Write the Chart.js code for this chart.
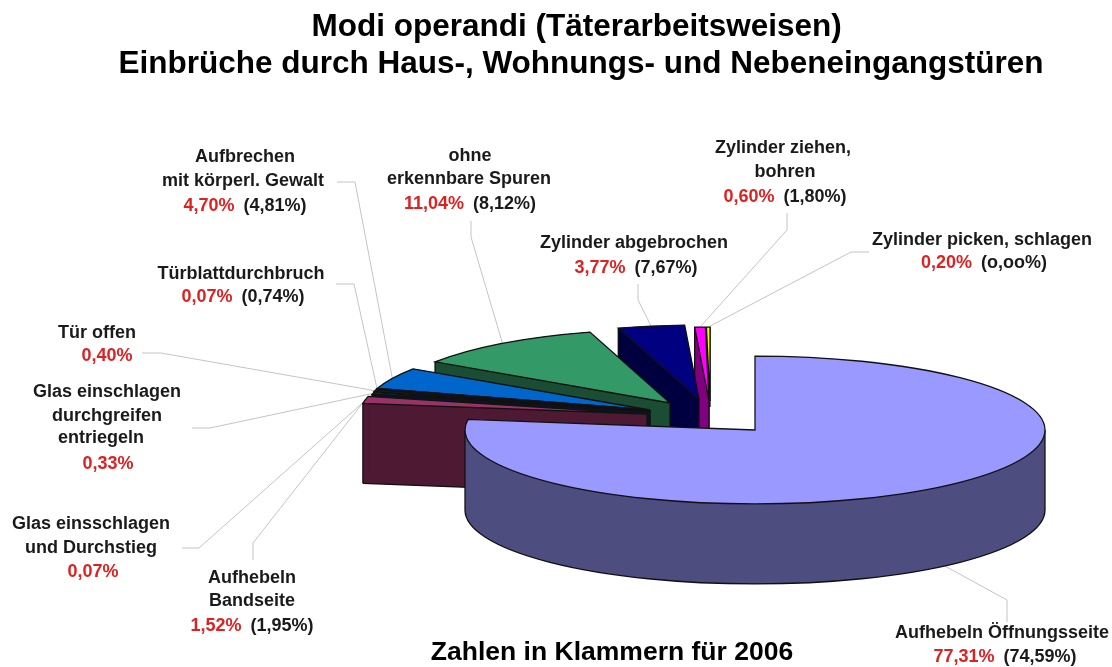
<!DOCTYPE html>
<html lang="de">
<head>
<meta charset="utf-8">
<title>Modi operandi</title>
<script src="https://cdn.jsdelivr.net/npm/chart.js@4/dist/chart.umd.min.js"></script>
<style>
    body { margin: 0; background: #fff; }
    canvas { display: block; }
</style>
</head>
<body>
<canvas id="pieChart" width="1112" height="667"></canvas>
<script>
const categories = [
    ['Aufhebeln Öffnungsseite'],
    ['Aufhebeln', 'Bandseite'],
    ['Glas einsschlagen', 'und Durchstieg'],
    ['Glas einschlagen', 'durchgreifen', 'entriegeln'],
    ['Tür offen'],
    ['Türblattdurchbruch'],
    ['Aufbrechen', 'mit körperl. Gewalt'],
    ['ohne', 'erkennbare Spuren'],
    ['Zylinder abgebrochen'],
    ['Zylinder ziehen,', 'bohren'],
    ['Zylinder picken, schlagen']
];
const values2007 = [77.31, 1.52, 0.07, 0.33, 0.40, 0.07, 4.70, 11.04, 3.77, 0.60, 0.20];
const labels2007 = ['77,31%', '1,52%', '0,07%', '0,33%', '0,40%', '0,07%', '4,70%', '11,04%', '3,77%', '0,60%', '0,20%'];
const labels2006 = ['(74,59%)', '(1,95%)', '', '', '', '(0,74%)', '(4,81%)', '(8,12%)', '(7,67%)', '(1,80%)', '(o,oo%)'];

const topColors = ['#9999ff', '#993366', '#003366', '#009900', '#06265c', '#333399', '#0066cc', '#339966', '#000080', '#ff00ff', '#ffff00'];
const sideColors = ['#4d4d80', '#4d1933', '#001a33', '#004d00', '#03132e', '#1a1a4d', '#003366', '#1a4d33', '#000040', '#800080', '#808000'];

// pie layout, the pixel shift is how far each slice was pulled out of the pie
const pieCenter = [755, 430];
const squash = 0.255;
const depth = 80;
const slicePull = [[0, 0], [-108, -16], [-106, -18], [-106, -18], [-106, -19], [-105, -20], [-105, -20], [-85, -27], [-56, -31], [-46, -29], [-45, -29]];
const rimWidth = [1, 0.99, 0.983, 0.983, 0.983, 0.983, 0.983, 0.975, 0.983, 0.983, 0.983];
const drawOrder = [10, 9, 8, 7, 6, 5, 4, 3, 2, 1, 0];

// [x, y] of the text lines, the last one is the percentages
const textPlaces = [
    [[1002, 633], [1005, 657]],
    [[252, 578], [252, 601], [252, 626]],
    [[91, 524], [91, 548], [93, 572]],
    [[107, 392], [107, 416], [101, 438], [108, 464]],
    [[97, 333], [107, 356]],
    [[241, 274], [243, 297]],
    [[245, 157], [243, 181], [245, 206]],
    [[470, 156], [469, 179], [470, 204]],
    [[634, 243], [636, 268]],
    [[783, 148], [785, 172], [785, 197]],
    [[982, 240], [984, 263]]
];
const leaderStarts = [[1007, 622], [253, 560], [182, 548], [192, 428], [142, 353], [336, 284], [337, 182], [471, 221], [638, 284], [787, 213], [869, 252]];
const leaderElbows = [[1007, 600], [253, 543], [199, 548], [210, 428], [161, 353], [354, 284], [355, 182], [471, 237], [638, 300], [787, 230], [851, 252]];

function placeSlice(ctx, arc, i, drop) {
    ctx.translate(pieCenter[0] + slicePull[i][0], pieCenter[1] + slicePull[i][1] + drop);
    ctx.scale(rimWidth[i], squash);
    ctx.translate(-arc.x, -arc.y);
}

function fillSlice(ctx, arc, i, drop, color) {
    const original = arc.options;
    arc.options = { ...original, backgroundColor: color, borderWidth: 0 };
    ctx.save();
    placeSlice(ctx, arc, i, drop);
    arc.draw(ctx);
    ctx.restore();
    arc.options = original;
}

function apexPoint(i) {
    return [pieCenter[0] + slicePull[i][0], pieCenter[1] + slicePull[i][1]];
}

function rimPoint(arc, i, angle) {
    const apex = apexPoint(i);
    return [
        apex[0] + Math.cos(angle) * arc.outerRadius * rimWidth[i],
        apex[1] + Math.sin(angle) * arc.outerRadius * squash
    ];
}

// cut face along one radius of the slice
function fillCutFace(ctx, arc, i, angle) {
    const apex = apexPoint(i);
    const rim = rimPoint(arc, i, angle);
    ctx.beginPath();
    ctx.moveTo(apex[0], apex[1]);
    ctx.lineTo(rim[0], rim[1]);
    ctx.lineTo(rim[0], rim[1] + depth);
    ctx.lineTo(apex[0], apex[1] + depth);
    ctx.closePath();
    ctx.fill();
}

function fillRimBand(ctx, arc, i, from, to) {
    ctx.beginPath();
    ctx.save();
    placeSlice(ctx, arc, i, 0);
    ctx.arc(arc.x, arc.y, arc.outerRadius, from, to);
    ctx.restore();
    ctx.save();
    placeSlice(ctx, arc, i, depth);
    ctx.arc(arc.x, arc.y, arc.outerRadius, to, from, true);
    ctx.restore();
    ctx.closePath();
    ctx.fill();
}

// band is cut at the far left and right, there the path would turn back over itself
function fillWall(ctx, arc, i) {
    fillSlice(ctx, arc, i, depth, sideColors[i]);
    ctx.fillStyle = sideColors[i];
    fillCutFace(ctx, arc, i, arc.startAngle);
    fillCutFace(ctx, arc, i, arc.endAngle);
    const cuts = [arc.startAngle, 0, Math.PI, arc.endAngle]
        .filter(a => a >= arc.startAngle && a <= arc.endAngle);
    for (let n = 0; n < cuts.length - 1; n++) {
        fillRimBand(ctx, arc, i, cuts[n], cuts[n + 1]);
    }
}

// paths are built in the squashed space but stroked in the normal one, so the pen stays round
function strokeTop(ctx, arc, i) {
    ctx.save();
    placeSlice(ctx, arc, i, 0);
    ctx.beginPath();
    ctx.moveTo(arc.x, arc.y);
    ctx.arc(arc.x, arc.y, arc.outerRadius, arc.startAngle, arc.endAngle);
    ctx.closePath();
    ctx.restore();
    ctx.stroke();
}

// only the bottom edges that face the viewer
function strokeBottom(ctx, arc, i) {
    ctx.save();
    placeSlice(ctx, arc, i, depth);
    ctx.beginPath();
    if (arc.startAngle > 0) {
        ctx.moveTo(arc.x, arc.y);
        ctx.lineTo(arc.x + Math.cos(arc.startAngle) * arc.outerRadius, arc.y + Math.sin(arc.startAngle) * arc.outerRadius);
    }
    const from = Math.max(arc.startAngle, 0);
    const to = Math.min(arc.endAngle, Math.PI);
    if (from < to) {
        ctx.arc(arc.x, arc.y, arc.outerRadius, from, to);
    }
    ctx.restore();
    ctx.stroke();
}

function verticalEdge(ctx, point) {
    ctx.beginPath();
    ctx.moveTo(point[0], point[1]);
    ctx.lineTo(point[0], point[1] + depth);
    ctx.stroke();
}

// the side wall only has a vertical edge at its far left and far right
function strokeSilhouette(ctx, arc, i) {
    const points = [
        apexPoint(i),
        rimPoint(arc, i, arc.startAngle),
        rimPoint(arc, i, arc.endAngle)
    ];
    if (arc.startAngle < 0 && arc.endAngle > 0) {
        points.push(rimPoint(arc, i, 0));
    }
    if (arc.startAngle < Math.PI && arc.endAngle > Math.PI) {
        points.push(rimPoint(arc, i, Math.PI));
    }
    const byX = points.sort((a, b) => a[0] - b[0]);
    verticalEdge(ctx, byX[0]);
    verticalEdge(ctx, byX[byX.length - 1]);
}

function drawSlice(ctx, arc, i) {
    ctx.strokeStyle = '#111';
    ctx.lineWidth = 1.3;
    fillWall(ctx, arc, i);
    strokeBottom(ctx, arc, i);
    strokeSilhouette(ctx, arc, i);
    fillSlice(ctx, arc, i, 0, topColors[i]);
    strokeTop(ctx, arc, i);
}

function drawLeaders(ctx, arcs) {
    ctx.strokeStyle = '#c4c4c4';
    ctx.lineWidth = 1;
    arcs.forEach((arc, i) => {
        const end = rimPoint(arc, i, (arc.startAngle + arc.endAngle) / 2);
        // the big slice's label hangs below the pie, so it meets the lower rim
        if (i === 0) end[1] += depth;
        ctx.beginPath();
        ctx.moveTo(leaderStarts[i][0], leaderStarts[i][1]);
        ctx.lineTo(leaderElbows[i][0], leaderElbows[i][1]);
        ctx.lineTo(end[0], end[1]);
        ctx.stroke();
    });
}

function drawLabels(ctx) {
    ctx.textBaseline = 'middle';
    ctx.font = 'bold 18px "Liberation Sans"';
    categories.forEach((lines, i) => {
        const places = textPlaces[i];
        ctx.textAlign = 'center';
        ctx.fillStyle = '#1a1a1a';
        lines.forEach((line, n) => ctx.fillText(line, places[n][0], places[n][1]));

        const last = places[places.length - 1];
        const gap = labels2006[i] ? 9 : 0;
        const redWidth = ctx.measureText(labels2007[i]).width;
        const blackWidth = ctx.measureText(labels2006[i]).width;
        const left = last[0] - (redWidth + gap + blackWidth) / 2;
        ctx.textAlign = 'left';
        ctx.fillStyle = '#dd2222';
        ctx.fillText(labels2007[i], left, last[1]);
        ctx.fillStyle = '#1a1a1a';
        ctx.fillText(labels2006[i], left + redWidth + gap, last[1]);
    });
    ctx.textAlign = 'center';
    ctx.fillStyle = '#000';
    ctx.font = 'bold 26.5px "Liberation Sans"';
    ctx.fillText('Zahlen in Klammern für 2006', 612, 653);
}

const explodedPie = {
    id: 'explodedPie',
    beforeDatasetDraw(chart, args) {
        const ctx = chart.ctx;
        const arcs = args.meta.data;
        drawLeaders(ctx, arcs);
        drawOrder.forEach(i => drawSlice(ctx, arcs[i], i));
        drawLabels(ctx);
        return false;
    }
};

new Chart(document.getElementById('pieChart').getContext('2d'), {
    type: 'pie',
    data: {
        labels: categories.map(lines => lines.join(' ')),
        datasets: [{
            data: values2007,
            backgroundColor: topColors,
            borderWidth: 0,
            radius: 290
        }]
    },
    options: {
        responsive: false,
        animation: false,
        events: [],
        layout: { padding: { left: 50 } },
        plugins: {
            legend: { display: false },
            tooltip: { enabled: false },
            title: {
                display: true,
                // trailing space nudges the first line left, as in the original
                text: ['Modi operandi (Täterarbeitsweisen) ', 'Einbrüche durch Haus-, Wohnungs- und Nebeneingangstüren'],
                color: '#000',
                font: { family: '"Liberation Sans"', size: 31.5, weight: 'bold', lineHeight: 1.175 },
                padding: { top: 9, bottom: 10 }
            }
        }
    },
    plugins: [explodedPie]
});
</script>
</body>
</html>
